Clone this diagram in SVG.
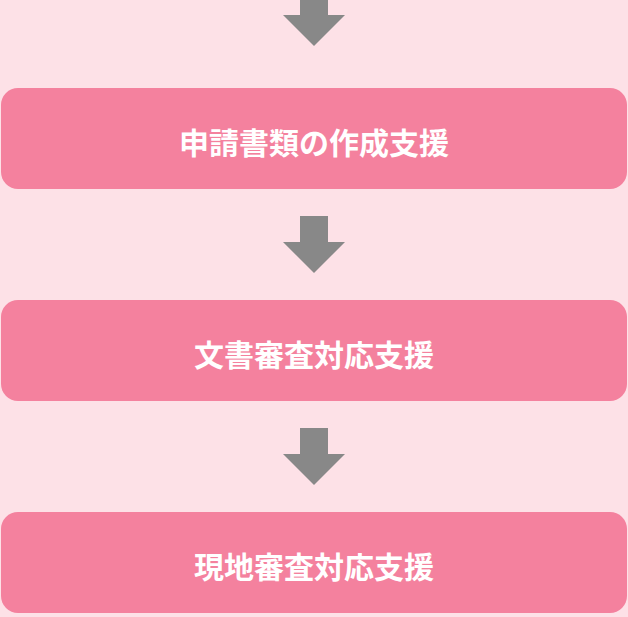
<svg xmlns="http://www.w3.org/2000/svg" width="628" height="617" viewBox="0 0 628 617">
<style>
.box{fill:#f4819e}
.lbl{fill:#ffffff;font-family:"Noto Sans CJK JP","Noto Sans",sans-serif;font-weight:bold;font-size:30px;text-anchor:middle;dominant-baseline:central}
.arr{fill:#888888}
</style>
<rect x="0" y="0" width="628" height="617" fill="#fde1e7"/>
<g id="connectors">
<polygon class="arr" points="300,-11 328,-11 328,15 345,15 314,46 283,15 300,15"/>
<polygon class="arr" points="300,216 328,216 328,242 345,242 314,273 283,242 300,242"/>
<polygon class="arr" points="300,428 328,428 328,454 345,454 314,485 283,454 300,454"/>
</g>
<g id="node1">
<rect class="box" x="1" y="88" width="626" height="101" rx="17"/>
<text class="lbl" x="314" y="141">申請書類の作成支援</text>
</g>
<g id="node2">
<rect class="box" x="1" y="300" width="626" height="101" rx="17"/>
<text class="lbl" x="314" y="353">文書審査対応支援</text>
</g>
<g id="node3">
<rect class="box" x="1" y="512" width="626" height="101" rx="17"/>
<text class="lbl" x="314" y="565">現地審査対応支援</text>
</g>
</svg>
